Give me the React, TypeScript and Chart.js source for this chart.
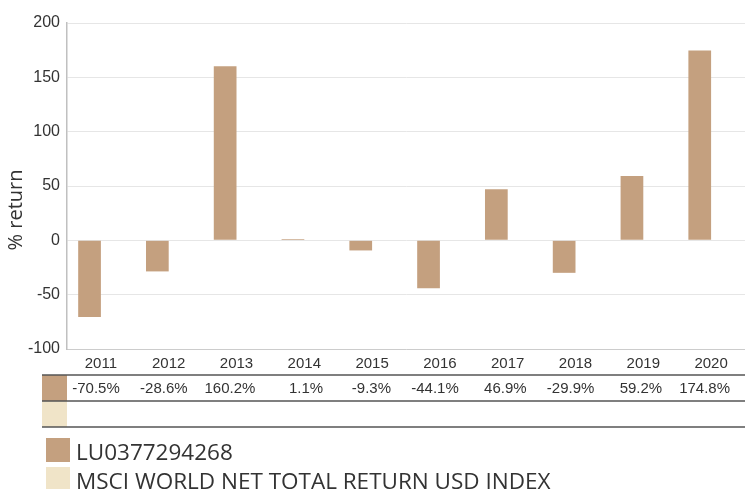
import React, { useEffect, useRef } from "react";
import { Chart, registerables } from "chart.js";

Chart.register(...registerables);

const years = ["2011", "2012", "2013", "2014", "2015", "2016", "2017", "2018", "2019", "2020"];
const fundValues = [-70.5, -28.6, 160.2, 1.1, -9.3, -44.1, 46.9, -29.9, 59.2, 174.8];
const indexValues: (number | null)[] = [null, null, null, null, null, null, null, null, null, null];
const fundLabel = "LU0377294268";
const indexLabel = "MSCI WORLD NET TOTAL RETURN USD INDEX";
const yAxisTitle = "% return";
const yMin = -100;
const yMax = 200;
const yStep = 50;

const FUND_COLOR = "#c4a07f";
const INDEX_COLOR = "#f0e4c8";
const W = 745;
const H = 489;

const fmt = (v: number | null) => (v === null || v === undefined ? "" : v.toFixed(1) + "%");

const overlayPlugin = {
  id: "overlay",
  afterDraw(chart: any) {
    const ctx = chart.ctx as CanvasRenderingContext2D;
    const xs = chart.scales.x;
    const ca = chart.chartArea;
    const catW = (ca.right - ca.left) / years.length;

    // y axis title
    ctx.save();
    ctx.translate(16, 210);
    ctx.rotate(-Math.PI / 2);
    ctx.font = '20px "Open Sans"';
    ctx.fillStyle = "#333";
    ctx.textAlign = "center";
    ctx.textBaseline = "middle";
    ctx.fillText(yAxisTitle, 0, 0);
    ctx.restore();

    // data table
    const tLeft = 42;
    const tRight = W;
    const rowTop = 375;
    const rowH = 26;
    const datasets = chart.data.datasets;
    ctx.save();
    datasets.forEach((ds: any, r: number) => {
      const top = rowTop + r * rowH;
      ctx.fillStyle = ds.backgroundColor;
      ctx.fillRect(tLeft, top, 25, rowH);
      ctx.font = '15px "Liberation Sans"';
      ctx.fillStyle = "#333";
      ctx.textAlign = "right";
      ctx.textBaseline = "middle";
      ds.data.forEach((v: number | null, i: number) => {
        const cx = xs.getPixelForValue(i);
        ctx.fillText(fmt(v), cx + catW / 2 - 15, top + rowH / 2 + 1);
      });
    });
    ctx.strokeStyle = "#555";
    ctx.lineWidth = 1.5;
    for (let r = 0; r <= datasets.length; r++) {
      const y = rowTop + r * rowH;
      ctx.beginPath();
      ctx.moveTo(tLeft, y);
      ctx.lineTo(tRight, y);
      ctx.stroke();
    }
    ctx.restore();

    // legend
    ctx.save();
    datasets.forEach((ds: any, r: number) => {
      const top = 438 + r * 29;
      ctx.fillStyle = ds.backgroundColor;
      ctx.fillRect(46, top, 24, 24);
      ctx.font = '22.5px "Open Sans"';
      ctx.fillStyle = "#333";
      ctx.textAlign = "left";
      ctx.textBaseline = "alphabetic";
      ctx.fillText(ds.label, 76, top + 21.5);
    });
    ctx.restore();
  },
};

export default function App() {
  const ref = useRef<HTMLCanvasElement | null>(null);

  useEffect(() => {
    if (!ref.current) return;
    Chart.defaults.font.family = '"Liberation Sans", Arial, sans-serif';
    const chart = new Chart(ref.current, {
      type: "bar",
      data: {
        labels: years,
        datasets: [
          {
            label: fundLabel,
            data: fundValues,
            backgroundColor: FUND_COLOR,
            borderWidth: 0,
            categoryPercentage: 0.67,
            barPercentage: 1,
          },
          {
            label: indexLabel,
            data: indexValues,
            backgroundColor: INDEX_COLOR,
            borderWidth: 0,
            categoryPercentage: 0.67,
            barPercentage: 1,
          },
        ],
      },
      options: {
        responsive: false,
        animation: false,
        maintainAspectRatio: false,
        layout: { padding: { left: 0, right: 0, top: 23, bottom: 114 } },
        plugins: {
          legend: { display: false },
          tooltip: { enabled: false },
          title: { display: false },
        },
        scales: {
          x: {
            grid: { display: false, drawTicks: false },
            border: { display: true, color: "#cccccc", width: 1 },
            ticks: { color: "#333", font: { size: 15 }, padding: 6, maxRotation: 0 },
            afterFit: (s: any) => {
              s.height = 26;
            },
          },
          y: {
            min: yMin,
            max: yMax,
            grid: { color: "#e6e6e6", drawTicks: false },
            border: { display: true, color: "#c0c0c0", width: 1.5 },
            ticks: { stepSize: yStep, color: "#333", font: { size: 16 }, padding: 7 },
            afterFit: (s: any) => {
              s.width = 67;
            },
          },
        },
      },
      plugins: [overlayPlugin],
    });
    return () => chart.destroy();
  }, []);

  return (
    <div style={{ position: "fixed", left: 0, top: 0, width: W, height: H, background: "#fff" }}>
      <canvas ref={ref} width={W} height={H} style={{ width: W, height: H, display: "block" }} />
    </div>
  );
}
